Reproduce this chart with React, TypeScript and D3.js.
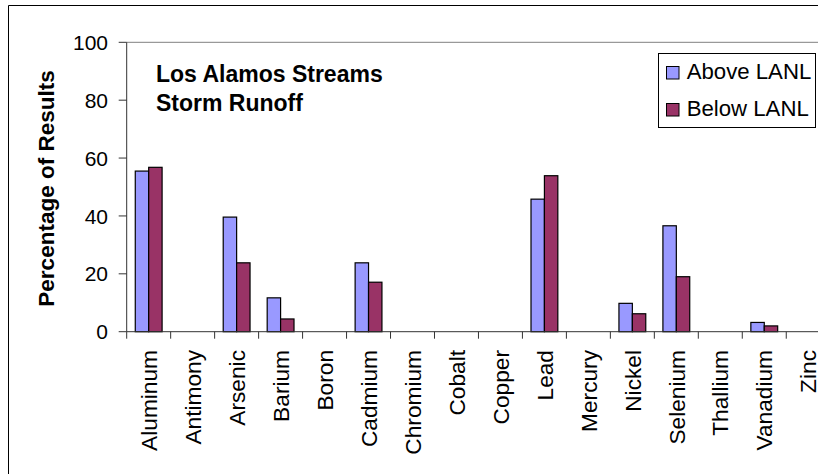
import React from "react";
import * as d3 from "d3";

const categories = [
  "Aluminum", "Antimony", "Arsenic", "Barium", "Boron", "Cadmium", "Chromium", "Cobalt",
  "Copper", "Lead", "Mercury", "Nickel", "Selenium", "Thallium", "Vanadium", "Zinc",
];
const seriesNames = ["Above LANL", "Below LANL"];
const aboveValues = [55.5, 0, 39.6, 11.7, 0, 23.8, 0, 0, 0, 45.8, 0, 9.8, 36.6, 0, 3.2, 0];
const belowValues = [56.8, 0, 23.8, 4.4, 0, 17.1, 0, 0, 0, 53.9, 0, 6.2, 19.0, 0, 2.0, 0];
const yTicks = [0, 20, 40, 60, 80, 100];
const titleLines = ["Los Alamos Streams", "Storm Runoff"];
const yAxisTitle = "Percentage of Results";
const colors = ["#9999FF", "#993366"];

const W = 818;
const H = 474;
const plotLeft = 126.7;
const plotTop = 42.3;
const plotBottom = 331.7;
const step = 43.97;
const plotRight = plotLeft + step * categories.length;
const font = "'Liberation Sans', Arial, sans-serif";

export default function App() {
  const x0 = d3
    .scaleBand<string>()
    .domain(categories)
    .range([plotLeft, plotRight])
    .paddingInner(0.39)
    .paddingOuter(0.195);
  const x1 = d3.scaleBand<string>().domain(seriesNames).range([0, x0.bandwidth()]);
  const y = d3.scaleLinear().domain([0, 100]).range([plotBottom, plotTop]);
  const series = [aboveValues, belowValues];
  const axisColor = "#333";

  return (
    <svg
      width={W}
      height={H}
      style={{ position: "fixed", left: 0, top: 0, background: "#fff" }}
      fontFamily={font}
    >
      <rect x={0} y={0} width={W} height={H} fill="#fff" />
      {/* outer chart border */}
      <path d={`M8.5,${H} V5.5 H${W}`} fill="none" stroke="#000" strokeWidth={1} />
      {/* plot area top border */}
      <line x1={plotLeft} x2={W} y1={plotTop} y2={plotTop} stroke="#808080" strokeWidth={1} />

      {/* bars */}
      {categories.map((c, i) => (
        <g key={c}>
          {series.map((vals, s) =>
            vals[i] > 0 ? (
              <rect
                key={s}
                x={(x0(c) as number) + (x1(seriesNames[s]) as number)}
                y={y(vals[i])}
                width={x1.bandwidth()}
                height={y(0) - y(vals[i])}
                fill={colors[s]}
                stroke="#000"
                strokeWidth={1.2}
              />
            ) : null
          )}
        </g>
      ))}

      {/* y axis */}
      <line x1={plotLeft} x2={plotLeft} y1={plotTop} y2={plotBottom} stroke={axisColor} strokeWidth={1} />
      {yTicks.map((t) => (
        <g key={t}>
          <line x1={plotLeft - 8} x2={plotLeft} y1={y(t)} y2={y(t)} stroke={axisColor} strokeWidth={1} />
          <text x={108} y={y(t)} dy="0.36em" textAnchor="end" fontSize={21} fill="#000">
            {t}
          </text>
        </g>
      ))}

      {/* x axis */}
      <line x1={plotLeft} x2={W} y1={plotBottom} y2={plotBottom} stroke={axisColor} strokeWidth={1} />
      {d3.range(categories.length + 1).map((i) => {
        const xx = plotLeft + i * x0.step();
        return (
          <line key={i} x1={xx} x2={xx} y1={plotBottom} y2={plotBottom + 7} stroke={axisColor} strokeWidth={1} />
        );
      })}
      {categories.map((c) => {
        const cx = (x0(c) as number) + x0.bandwidth() / 2;
        return (
          <text
            key={c}
            transform={`translate(${cx},350) rotate(-90)`}
            dy="0.36em"
            textAnchor="end"
            fontSize={22.7}
            fill="#000"
          >
            {c}
          </text>
        );
      })}

      {/* y axis title */}
      <text
        transform={`translate(54,188.5) rotate(-90)`}
        textAnchor="middle"
        fontSize={22.5}
        fontWeight="bold"
        fill="#000"
      >
        {yAxisTitle}
      </text>

      {/* chart title inside plot */}
      {titleLines.map((t, i) => (
        <text key={t} x={156} y={82.3 + i * 28.7} fontSize={23} fontWeight="bold" fill="#000">
          {t}
        </text>
      ))}

      {/* legend */}
      <rect x={658.5} y={53.5} width={157} height={74} fill="#fff" stroke="#000" strokeWidth={1} />
      {seriesNames.map((s, i) => (
        <g key={s}>
          <rect x={666.5} y={66.5 + i * 37} width={12.5} height={12.5} fill={colors[i]} stroke="#000" strokeWidth={1} />
          <text x={686.7} y={79.3 + i * 37} fontSize={22.2} fill="#000">
            {s}
          </text>
        </g>
      ))}
    </svg>
  );
}
